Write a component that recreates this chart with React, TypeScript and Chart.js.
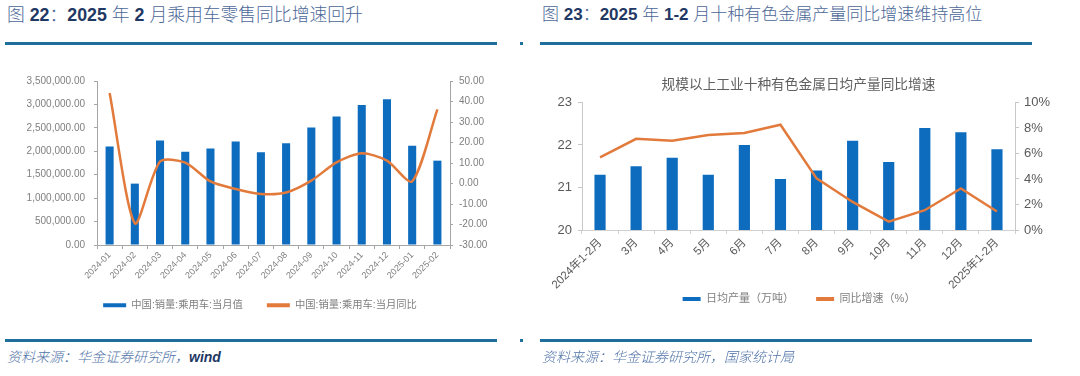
import React, { useEffect, useRef } from "react";
import { Chart, registerables } from "chart.js";

Chart.register(...registerables);

// ---------- Data: figure 22 ----------
const carMonths = [
  "2024-01", "2024-02", "2024-03", "2024-04", "2024-05", "2024-06", "2024-07",
  "2024-08", "2024-09", "2024-10", "2024-11", "2024-12", "2025-01", "2025-02",
];
const carSales = [
  2100000, 1310000, 2230000, 1990000, 2060000, 2210000, 1980000,
  2170000, 2510000, 2740000, 2990000, 3110000, 2120000, 1800000,
];
const carYoY = [44.1, -19.4, 10.7, 10.2, 1.0, -2.7, -5.1, -4.4, 1.4, 10.3, 14.8, 11.2, 1.0, 36.2];
const carSalesLabel = "中国:销量:乘用车:当月值";
const carYoYLabel = "中国:销量:乘用车:当月同比";

// ---------- Data: figure 23 ----------
const metalMonths = [
  "2024年1-2月", "3月", "4月", "5月", "6月", "7月", "8月", "9月", "10月", "11月", "12月", "2025年1-2月",
];
const metalOutput = [21.3, 21.5, 21.7, 21.3, 22.0, 21.2, 21.4, 22.1, 21.6, 22.4, 22.3, 21.9];
const metalYoY = [5.7, 7.15, 7.0, 7.45, 7.6, 8.25, 4.05, 2.2, 0.65, 1.55, 3.25, 1.45];
const metalOutputLabel = "日均产量（万吨）";
const metalYoYLabel = "同比增速（%）";
const metalChartTitle = "规模以上工业十种有色金属日均产量同比增速";

// ---------- Styles ----------
const FONT = "'Liberation Sans', 'Noto Sans CJK SC', sans-serif";
const BLUE = "#0E6CBF";
const ORANGE = "#E27A3C";
const RULE = "#1E6E9E";
const NAVY = "#1F3864";
const TITLE_CN = "#4B6797";

const legendLabels = (chart: any) =>
  Chart.defaults.plugins.legend.labels
    .generateLabels(chart)
    .map((l: any) => ({ ...l, lineWidth: 0 }));

// moves the legend box up after layout so it sits beside the rotated tick labels
const legendLift = {
  id: "legendLift",
  afterLayout(chart: any, _args: any, opts: any) {
    const l = chart.legend;
    if (l && opts && opts.dy) {
      l.top -= opts.dy;
      l.bottom -= opts.dy;
    }
  },
};

function CarChart() {
  const ref = useRef<HTMLCanvasElement | null>(null);
  useEffect(() => {
    if (!ref.current) return;
    const chart = new Chart(ref.current, {
      type: "bar",
      plugins: [legendLift],
      data: {
        labels: carMonths,
        datasets: [
          {
            type: "bar",
            label: carSalesLabel,
            data: carSales,
            backgroundColor: BLUE,
            borderWidth: 0,
            yAxisID: "y",
            order: 2,
            barPercentage: 0.32,
            categoryPercentage: 1,
          } as any,
          {
            type: "line",
            label: carYoYLabel,
            data: carYoY,
            borderColor: ORANGE,
            backgroundColor: ORANGE,
            borderWidth: 2.5,
            pointRadius: 0,
            tension: 0.25,
            fill: false,
            yAxisID: "y1",
            order: 1,
          } as any,
        ],
      },
      options: {
        responsive: false,
        animation: false,
        layout: { padding: { top: 21, bottom: 8.7, left: 0, right: 0 } },
        plugins: {
          tooltip: { enabled: false },
          title: { display: false },
          legendLift: { dy: 11 },
          legend: {
            position: "bottom",
            labels: {
              boxWidth: 23,
              boxHeight: 4,
              padding: 24,
              color: "#7f7f7f",
              font: { size: 10.3, family: FONT },
              sort: (a: any, b: any) => a.datasetIndex - b.datasetIndex,
              generateLabels: legendLabels,
            },
          },
        },
        scales: {
          x: {
            grid: { offset: true, drawOnChartArea: false, drawTicks: true, tickLength: 4, color: "#a6a6a6" },
            border: { display: true, color: "#a6a6a6" },
            ticks: {
              autoSkip: false,
              minRotation: 45,
              maxRotation: 45,
              padding: 1,
              color: "#7f7f7f",
              font: { size: 9, family: FONT },
            },
            afterFit: (s: any) => {
              s.height = 42;
            },
          },
          y: {
            position: "left",
            min: 0,
            max: 3500000,
            grid: { drawOnChartArea: false, drawTicks: true, tickLength: 3, color: "#a6a6a6" },
            border: { display: true, color: "#a6a6a6" },
            ticks: {
              stepSize: 500000,
              padding: 9,
              color: "#7f7f7f",
              font: { size: 10, family: FONT },
              callback: (v: any) =>
                Number(v).toLocaleString("en-US", { minimumFractionDigits: 2, maximumFractionDigits: 2 }),
            },
            afterFit: (s: any) => {
              s.width = 117;
            },
          },
          y1: {
            position: "right",
            min: -30,
            max: 50,
            grid: { drawOnChartArea: false, drawTicks: true, tickLength: 3, color: "#a6a6a6" },
            border: { display: true, color: "#a6a6a6" },
            ticks: {
              stepSize: 10,
              padding: 6,
              color: "#7f7f7f",
              font: { size: 10, family: FONT },
              callback: (v: any) => Number(v).toFixed(2),
            },
            afterFit: (s: any) => {
              s.width = 90;
            },
          },
        },
      } as any,
    });
    return () => chart.destroy();
  }, []);
  return (
    <canvas
      ref={ref}
      width={560}
      height={280}
      style={{ position: "absolute", left: -20, top: 60, width: 560, height: 280 }}
    />
  );
}

function MetalChart() {
  const ref = useRef<HTMLCanvasElement | null>(null);
  useEffect(() => {
    if (!ref.current) return;
    const chart = new Chart(ref.current, {
      type: "bar",
      plugins: [legendLift],
      data: {
        labels: metalMonths,
        datasets: [
          {
            type: "bar",
            label: metalOutputLabel,
            data: metalOutput,
            backgroundColor: BLUE,
            borderWidth: 0,
            yAxisID: "y",
            order: 2,
            barPercentage: 0.31,
            categoryPercentage: 1,
          } as any,
          {
            type: "line",
            label: metalYoYLabel,
            data: metalYoY,
            borderColor: ORANGE,
            backgroundColor: ORANGE,
            borderWidth: 2.5,
            pointRadius: 0,
            tension: 0,
            fill: false,
            yAxisID: "y1",
            order: 1,
          } as any,
        ],
      },
      options: {
        responsive: false,
        animation: false,
        layout: { padding: { top: 17, bottom: 9, left: 0, right: 0 } },
        plugins: {
          tooltip: { enabled: false },
          legendLift: { dy: 26.5 },
          title: {
            display: true,
            text: metalChartTitle,
            fullSize: false,
            color: "#606060",
            font: { size: 13.7, family: FONT, weight: "normal" },
            padding: { top: 0, bottom: 9 },
          },
          legend: {
            position: "bottom",
            labels: {
              boxWidth: 18,
              boxHeight: 4,
              padding: 22,
              color: "#7f7f7f",
              font: { size: 11, family: FONT },
              sort: (a: any, b: any) => a.datasetIndex - b.datasetIndex,
              generateLabels: legendLabels,
            },
          },
        },
        scales: {
          x: {
            grid: { offset: true, drawOnChartArea: false, drawTicks: true, tickLength: 4, color: "#d0d0d0" },
            border: { display: true, color: "#d0d0d0" },
            ticks: {
              autoSkip: false,
              minRotation: 45,
              maxRotation: 45,
              padding: 2,
              color: "#595959",
              font: { size: 11.5, family: FONT },
            },
            afterFit: (s: any) => {
              s.height = 68;
            },
          },
          y: {
            position: "left",
            min: 20,
            max: 23,
            grid: { drawOnChartArea: false, drawTicks: true, tickLength: 4, color: "#c8c8c8" },
            border: { display: true, color: "#c8c8c8" },
            ticks: {
              stepSize: 1,
              padding: 6,
              color: "#595959",
              font: { size: 13, family: FONT },
            },
            afterFit: (s: any) => {
              s.width = 64;
            },
          },
          y1: {
            position: "right",
            min: 0,
            max: 10,
            grid: { drawOnChartArea: false, drawTicks: true, tickLength: 4, color: "#c8c8c8" },
            border: { display: true, color: "#c8c8c8" },
            ticks: {
              stepSize: 2,
              padding: 5,
              color: "#595959",
              font: { size: 13, family: FONT },
              callback: (v: any) => `${v}%`,
            },
            afterFit: (s: any) => {
              s.width = 65;
            },
          },
        },
      } as any,
    });
    return () => chart.destroy();
  }, []);
  return (
    <canvas
      ref={ref}
      width={562}
      height={290}
      style={{ position: "absolute", left: 518, top: 60, width: 562, height: 290 }}
    />
  );
}

const titleStyle: React.CSSProperties = {
  position: "absolute",
  top: 4,
  lineHeight: "22px",
  whiteSpace: "nowrap",
  color: TITLE_CN,
  fontWeight: 300,
  fontFamily: FONT,
};
const numStyle: React.CSSProperties = { fontWeight: "bold", color: NAVY };
const sourceStyle: React.CSSProperties = {
  position: "absolute",
  top: 346,
  fontSize: 14,
  lineHeight: "22px",
  whiteSpace: "nowrap",
  fontStyle: "italic",
  fontWeight: 300,
  color: "#5174A8",
  fontFamily: FONT,
};
const rule = (left: number, top: number, width: number): React.CSSProperties => ({
  position: "absolute",
  left,
  top,
  width,
  height: 3,
  background: RULE,
});

export default function App() {
  return (
    <div
      style={{
        position: "absolute",
        left: 0,
        top: 0,
        width: 1080,
        height: 376,
        background: "#fff",
        overflow: "hidden",
      }}
    >
      <CarChart />
      <MetalChart />
      <div style={{ ...titleStyle, left: 7, fontSize: 17.8 }}>
        图 <span style={numStyle}>22</span>：<span style={numStyle}>2025</span> 年{" "}
        <span style={numStyle}>2</span> 月乘用车零售同比增速回升
      </div>
      <div style={{ ...titleStyle, left: 542, fontSize: 17 }}>
        图 <span style={numStyle}>23</span>：<span style={numStyle}>2025</span> 年{" "}
        <span style={numStyle}>1-2</span> 月十种有色金属产量同比增速维持高位
      </div>
      <div style={rule(5, 42, 492)} />
      <div style={rule(520, 42, 3)} />
      <div style={rule(540, 42, 492)} />
      <div style={rule(5, 339, 492)} />
      <div style={rule(520, 339, 3)} />
      <div style={rule(540, 339, 492)} />
      <div style={{ ...sourceStyle, left: 7 }}>
        资料来源：华金证券研究所，<span style={{ fontWeight: "bold", color: NAVY }}>wind</span>
      </div>
      <div style={{ ...sourceStyle, left: 542 }}>资料来源：华金证券研究所，国家统计局</div>
    </div>
  );
}
